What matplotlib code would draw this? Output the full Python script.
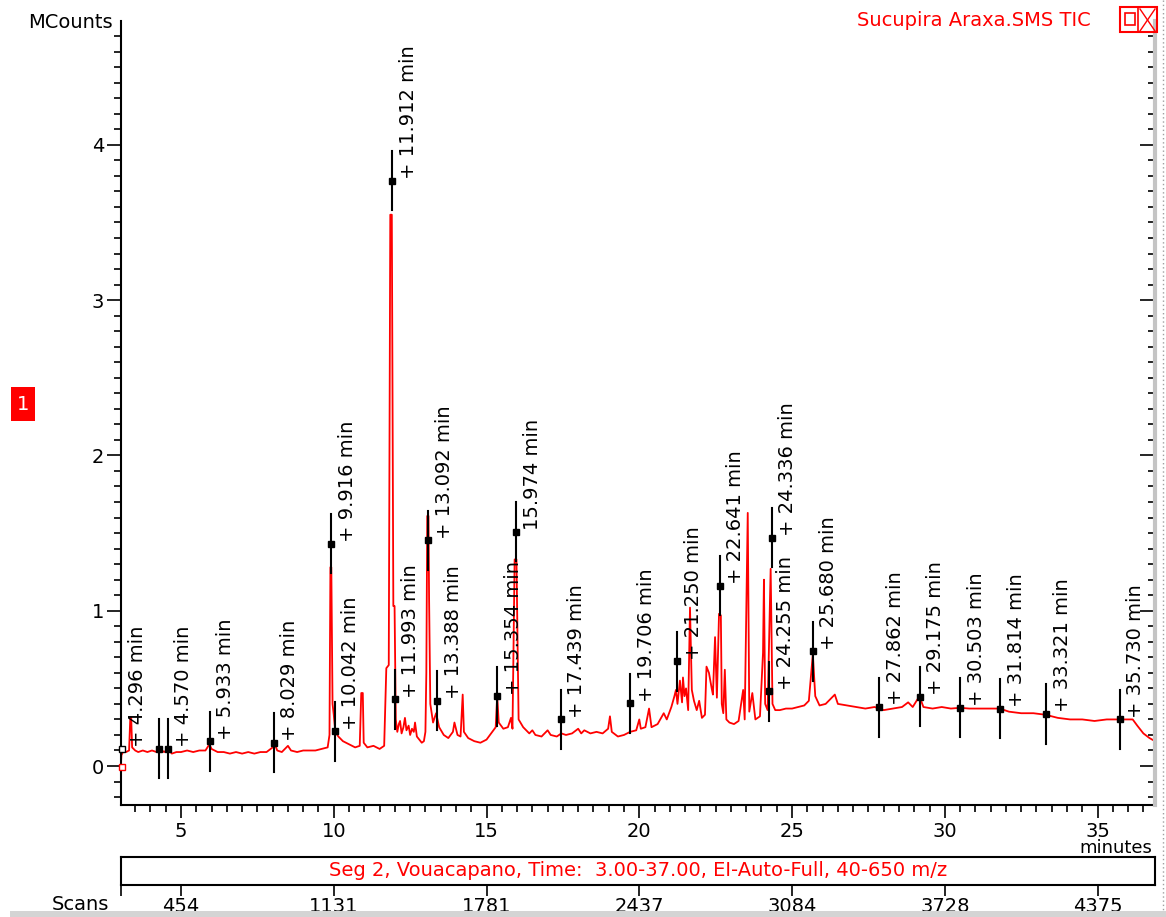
import matplotlib.pyplot as plt
from matplotlib.patches import Rectangle
from matplotlib.lines import Line2D
import numpy as np

# TIC trace, retention time (min) vs intensity (MCounts)
time = [3.03, 3.05, 3.10, 3.20, 3.30, 3.34, 3.37, 3.40, 3.50, 3.60, 3.75, 3.90,
        4.05, 4.20, 4.30, 4.45, 4.57, 4.70, 4.85, 5.00, 5.20, 5.40, 5.60, 5.80,
        5.93, 6.00, 6.20, 6.40, 6.60, 6.80, 7.00, 7.20, 7.40, 7.60, 7.80, 8.00,
        8.05, 8.15, 8.30, 8.50, 8.60, 8.80, 9.00, 9.20, 9.40, 9.60, 9.80, 9.86,
        9.89, 9.92, 9.96, 10.00, 10.05, 10.15, 10.30, 10.50, 10.70, 10.85, 10.90,
        10.95, 10.98, 11.10, 11.30, 11.50, 11.65, 11.72, 11.80, 11.85, 11.90,
        11.95, 11.99,
        12.03, 12.08, 12.13, 12.17, 12.22, 12.28, 12.33, 12.38, 12.45, 12.50,
        12.56, 12.62, 12.66, 12.72, 12.80, 12.88, 12.95,
        13.00, 13.03, 13.06, 13.10, 13.12, 13.16, 13.25, 13.35,
        13.45, 13.60, 13.75, 13.90, 13.95, 14.05, 14.15, 14.22, 14.26, 14.40,
        14.60, 14.80, 15.00, 15.15, 15.30, 15.35, 15.40, 15.55, 15.70, 15.80,
        15.85, 15.92, 15.98, 16.05, 16.20, 16.40, 16.50, 16.60, 16.80, 17.00,
        17.10, 17.30, 17.45, 17.60, 17.80, 18.00, 18.10, 18.20, 18.40, 18.60,
        18.80, 18.98, 19.04, 19.10, 19.30, 19.50, 19.70, 19.90, 20.00, 20.05,
        20.20, 20.32, 20.40, 20.60, 20.80, 20.90,
        21.05, 21.15, 21.20, 21.25, 21.33, 21.40, 21.43, 21.48, 21.53, 21.60,
        21.66, 21.72, 21.79, 21.88, 21.96, 22.05, 22.15, 22.20, 22.28, 22.37,
        22.41, 22.48, 22.54, 22.61, 22.67, 22.70, 22.75, 22.80,
        22.85, 22.95, 23.10, 23.25, 23.40, 23.45, 23.55, 23.60, 23.70, 23.80,
        23.95, 24.05, 24.08, 24.12, 24.20, 24.30, 24.36, 24.45, 24.60, 24.80,
        25.00, 25.20, 25.40, 25.55, 25.68, 25.76, 25.90, 26.10, 26.40, 26.50,
        26.80, 27.10, 27.40, 27.70, 28.00, 28.30, 28.60, 28.80, 28.95, 29.17,
        29.30, 29.60, 29.90, 30.20, 30.50, 30.80, 31.10, 31.40, 31.80, 32.10,
        32.50, 32.90, 33.30, 33.70, 34.10, 34.50, 34.90, 35.30, 35.73, 36.15,
        36.30, 36.50, 36.70, 36.88]
counts = [0.00, 0.07, 0.09, 0.09, 0.10, 0.31, 0.31, 0.12, 0.10, 0.09, 0.10, 0.09,
          0.10, 0.09, 0.11, 0.09, 0.11, 0.08, 0.09, 0.09, 0.10, 0.09, 0.10, 0.10,
          0.14, 0.11, 0.09, 0.09, 0.08, 0.09, 0.08, 0.09, 0.08, 0.09, 0.09, 0.12,
          0.15, 0.10, 0.09, 0.13, 0.10, 0.09, 0.10, 0.10, 0.10, 0.11, 0.12, 0.20,
          1.28, 1.28, 0.40, 0.33, 0.22, 0.19, 0.16, 0.14, 0.12, 0.13, 0.47,
          0.47, 0.15, 0.12, 0.13, 0.11, 0.13, 0.63, 0.65, 3.55, 3.55,
          1.03, 1.03,
          0.30, 0.22, 0.27, 0.29, 0.21, 0.25, 0.31, 0.23, 0.26, 0.20,
          0.24, 0.22, 0.28, 0.19, 0.17, 0.15, 0.16,
          0.22, 0.60, 1.61, 1.61, 1.08, 0.40, 0.28, 0.34,
          0.25, 0.20, 0.18, 0.22, 0.28, 0.20, 0.19, 0.46, 0.22, 0.18,
          0.16, 0.15, 0.17, 0.21, 0.25, 0.45, 0.28, 0.24, 0.25, 0.31,
          0.24, 1.33, 1.33, 0.30, 0.25, 0.21, 0.23, 0.20, 0.19, 0.23,
          0.20, 0.19, 0.21, 0.20, 0.21, 0.24, 0.21, 0.23, 0.21, 0.22,
          0.21, 0.24, 0.32, 0.22, 0.19, 0.20, 0.22, 0.23, 0.30, 0.24,
          0.25, 0.37, 0.25, 0.27, 0.34, 0.30,
          0.38, 0.45, 0.49, 0.40, 0.55, 0.41, 0.57, 0.45, 0.50, 0.36,
          1.02, 0.49, 0.42, 0.36, 0.42, 0.31, 0.33, 0.64, 0.60, 0.50,
          0.46, 0.83, 0.44, 0.98, 0.97, 0.40, 0.34, 0.62,
          0.30, 0.28, 0.27, 0.29, 0.49, 0.30, 1.63, 0.35, 0.47, 0.30,
          0.32, 0.73, 1.20, 0.40, 0.36, 1.27, 0.40, 0.36, 0.36, 0.37,
          0.37, 0.38, 0.39, 0.42, 0.72, 0.45, 0.39, 0.40, 0.46, 0.40,
          0.39, 0.38, 0.37, 0.38, 0.36, 0.37, 0.38, 0.41, 0.38, 0.45,
          0.38, 0.37, 0.38, 0.37, 0.375, 0.37, 0.37, 0.37, 0.37, 0.35,
          0.34, 0.34, 0.33, 0.31, 0.30, 0.30, 0.29, 0.30, 0.30, 0.30,
          0.26, 0.21, 0.18, 0.16]

# integrated peaks: retention time and apex height
peak_rt = [4.296, 4.570, 5.933, 8.029, 9.916, 10.042, 11.912, 11.993, 13.092,
           13.388, 15.354, 15.974, 17.439, 19.706, 21.250, 22.641, 24.255,
           24.336, 25.680, 27.862, 29.175, 30.503, 31.814, 33.321, 35.730]
peak_height = [0.11, 0.11, 0.16, 0.15, 1.43, 0.225, 3.77, 0.43, 1.455,
               0.42, 0.45, 1.51, 0.30, 0.405, 0.675, 1.16, 0.48,
               1.47, 0.74, 0.38, 0.445, 0.375, 0.37, 0.335, 0.30]

minute_ticks = [5, 10, 15, 20, 25, 30, 35]
scan_labels = ['454', '1131', '1781', '2437', '3084', '3728', '4375']

W, H = 1166, 917
RED = '#ff0000'
FS = 14
plt.rcParams['font.family'] = 'DejaVu Sans'

fig = plt.figure(figsize=(W / 100, H / 100), dpi=100)


def fx(px):
    return px / W


def fy(py):
    return 1 - py / H


ax = fig.add_axes([fx(121), fy(805), (1155 - 121) / W, (805 - 20.6) / H])
ax.plot(time, counts, color=RED, lw=1.3, zorder=2)

for rt, h in zip(peak_rt, peak_height):
    ax.plot([rt, rt], [h - 0.19, h + 0.19], color='k', lw=1.5, zorder=3)
    ax.plot(rt, h, 's', color='k', ms=4.5, zorder=4)

# label placement: a few are shifted or drawn without the cross
label_dx = {4.296: -0.73}
no_cross = {15.974}
for rt, h in zip(peak_rt, peak_height):
    txt = f'{rt:.3f} min' if rt in no_cross else f'+ {rt:.3f} min'
    ax.text(rt + label_dx.get(rt, 0.52), h + 0.01, txt, rotation=90,
            ha='center', va='bottom', fontsize=FS, zorder=5)

# segment start markers
ax.plot(time[0] + 0.03, 0.11, 's', mfc='white', mec='k', ms=5, mew=1, zorder=4,
        clip_on=False)
ax.plot(time[0] + 0.03, -0.005, 's', mfc='white', mec=RED, ms=5, mew=1,
        zorder=4, clip_on=False)

ax.set_xlim(3.036, 36.88)
ax.set_ylim(-0.251, 4.80)
ax.set_xticks(minute_ticks)
ax.set_xticks(np.arange(3.5, 36.9, 0.5), minor=True)
ax.set_yticks([0, 1, 2, 3, 4])
ax.set_yticks(np.arange(-0.2, 4.8, 0.1), minor=True)
ax.tick_params(axis='both', which='major', labelsize=FS, direction='out',
               width=1.2, color='k')
ax.tick_params(axis='y', which='major', length=10, pad=2)
ax.tick_params(axis='y', which='minor', length=5, width=1.2)
ax.tick_params(axis='x', which='major', length=9, pad=3)
ax.tick_params(axis='x', which='minor', length=5, width=1.2)
for s in ['top', 'right']:
    ax.spines[s].set_visible(False)
for s in ['left', 'bottom']:
    ax.spines[s].set_linewidth(1.5)

# right-hand scale, ticks pointing inward
axr = ax.twinx()
axr.set_ylim(ax.get_ylim())
axr.set_yticks([0, 1, 2, 3, 4])
axr.set_yticks(np.arange(-0.2, 4.8, 0.1), minor=True)
axr.set_yticklabels([])
axr.tick_params(axis='y', which='major', direction='in', length=11, width=1.2)
axr.tick_params(axis='y', which='minor', direction='in', length=5, width=1.2)
for s in ['top', 'left', 'bottom']:
    axr.spines[s].set_visible(False)
axr.spines['right'].set_color('#c4c4c4')
axr.spines['right'].set_linewidth(3)

fig.text(fx(113), fy(22), 'MCounts', ha='right', va='center', fontsize=FS)
fig.text(fx(1152), fy(848), 'minutes', ha='right', va='center', fontsize=13)

# segment / scan bar
axs = fig.add_axes([fx(121), fy(885), (1155 - 121) / W, 28 / H])
axs.set_xlim(ax.get_xlim())
axs.set_ylim(0, 1)
axs.set_yticks([])
axs.set_xticks([3.036] + minute_ticks)
axs.set_xticklabels([''] + scan_labels)
axs.tick_params(axis='x', length=8, width=1.2, labelsize=FS, pad=1)
for s in axs.spines.values():
    s.set_linewidth(1.5)
axs.text(0.5, 0.5, 'Seg 2, Vouacapano, Time:  3.00-37.00, EI-Auto-Full, 40-650 m/z',
         transform=axs.transAxes, ha='center', va='center', color=RED, fontsize=FS)
fig.text(fx(80), fy(904), 'Scans', ha='center', va='center', fontsize=FS)

# trace title and window buttons
fig.text(fx(974), fy(21), 'Sucupira Araxa.SMS TIC', ha='center', va='center',
         color=RED, fontsize=FS)
fig.add_artist(Rectangle((fx(1120), fy(32)), 37 / W, 25 / H, fill=False,
                         ec=RED, lw=1.5, transform=fig.transFigure))
fig.add_artist(Line2D([fx(1138), fx(1138)], [fy(7), fy(32)], color=RED, lw=1.2))
fig.add_artist(Rectangle((fx(1125), fy(25)), 10 / W, 12 / H, fill=False,
                         ec=RED, lw=1.2, transform=fig.transFigure))
fig.add_artist(Line2D([fx(1140), fx(1155)], [fy(9), fy(31)], color=RED, lw=1))
fig.add_artist(Line2D([fx(1140), fx(1155)], [fy(31), fy(9)], color=RED, lw=1))

# trace number tag
fig.add_artist(Rectangle((fx(11), fy(421)), 24 / W, 34 / H, fc=RED, ec='none',
                         transform=fig.transFigure))
fig.text(fx(23), fy(404), '1', ha='center', va='center', color='white', fontsize=FS)

# window frame bits
fig.add_artist(Rectangle((fx(10), 0), (W - 10) / W, 6 / H, fc='#d4d4d4',
                         ec='none', transform=fig.transFigure))
fig.add_artist(Line2D([fx(1163), fx(1163)], [fy(0), fy(910)], color='#a0a0a0',
                      lw=1, ls=(0, (1, 2))))

fig.savefig('out.png', dpi=100)
